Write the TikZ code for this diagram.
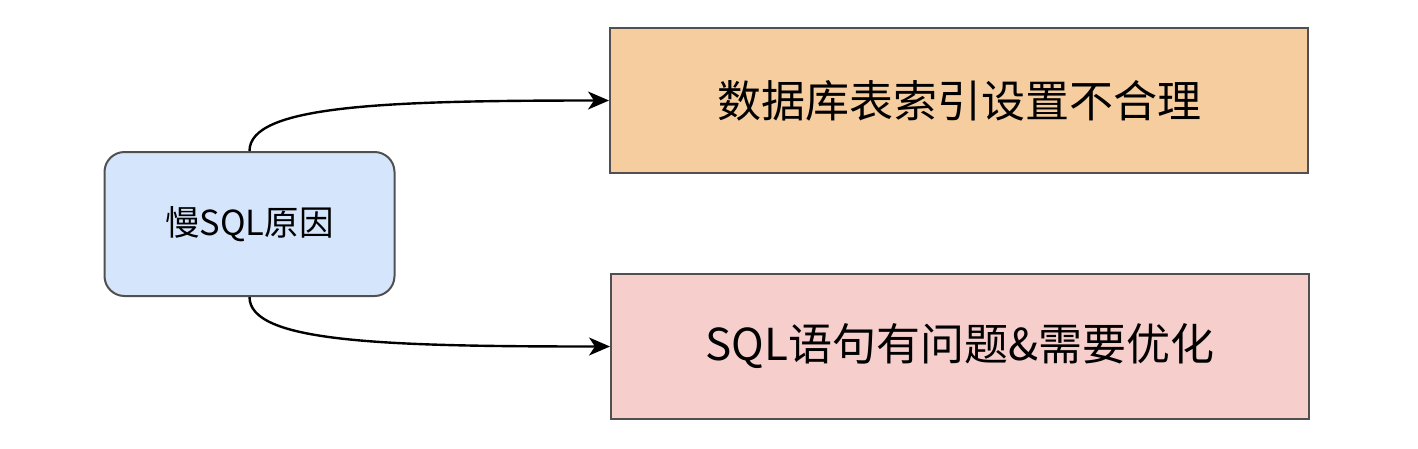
\documentclass[tikz,border=0pt]{standalone}
\usepackage{fontspec}
\setmainfont{Noto Sans CJK SC}
\usetikzlibrary{arrows.meta}
\definecolor{bluefill}{HTML}{D5E5FB}
\definecolor{orangefill}{HTML}{F6CD9E}
\definecolor{pinkfill}{HTML}{F6CECC}
\definecolor{edgegray}{HTML}{505050}
\tikzset{
  rootbox/.style={draw=edgegray, line width=2pt, fill=bluefill, rounded corners=20pt,
    minimum width=290pt, minimum height=144pt, inner sep=0pt, font=\fontsize{34.5}{40}\selectfont},
  leafbox/.style={draw=edgegray, line width=2pt, minimum width=698pt, minimum height=145pt,
    inner sep=0pt, font=\fontsize{44}{52}\selectfont},
  link/.style={line width=2.4pt, -{Stealth[length=21pt,width=18pt,inset=6pt]}}
}
\begin{document}
\begin{tikzpicture}[x=1pt,y=-1pt]
\useasboundingbox (0,0) rectangle (1418,448);
\node[rootbox] (root) at (249.5,224) {慢SQL原因};
\node[leafbox, fill=orangefill] (idx) at (959,100.5) {数据库表索引设置不合理};
\node[leafbox, fill=pinkfill] (sql) at (960,346.5) {SQL语句有问题\&需要优化};
\draw[link] (root.north) .. controls ++(0,-45) and ([xshift=-230pt]idx.west) .. (idx.west);
\draw[link] (root.south) .. controls ++(0,45) and ([xshift=-230pt]sql.west) .. (sql.west);
\end{tikzpicture}
\end{document}
